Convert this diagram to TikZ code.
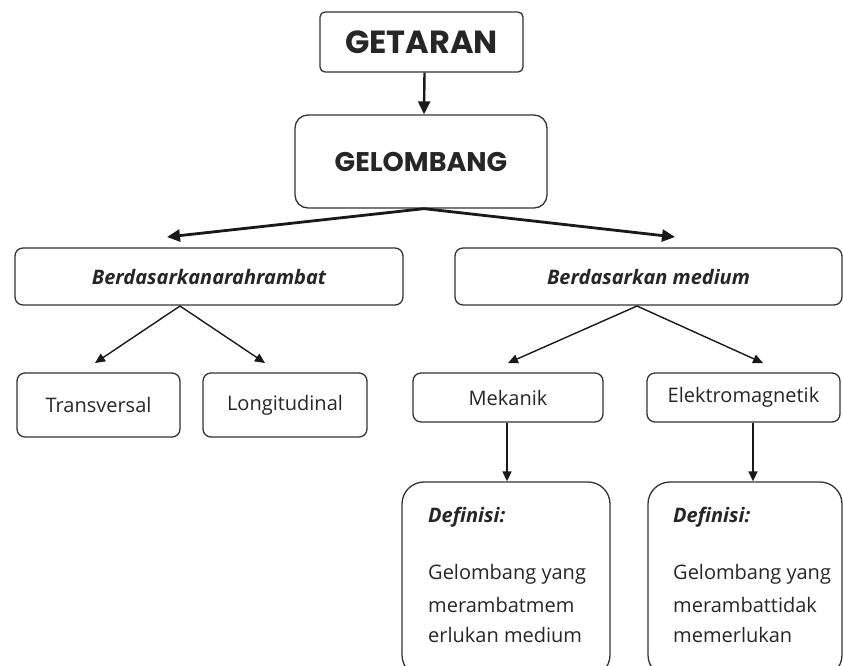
\documentclass[tikz,border=0pt]{standalone}
\usepackage{fontspec}
\setmainfont{Open Sans}
\newfontfamily\headfont{Poppins}
\usepackage{tikz}
\usetikzlibrary{arrows.meta}

\begin{document}
\begin{tikzpicture}[x=1pt, y=-1pt, every node/.style={font=\fontsize{20}{24}\selectfont, text=black!85}, >={Triangle[length=10pt,width=9pt]},
	bx/.style={draw=black!80, line width=1.3pt, rounded corners=8pt, inner sep=0pt},
	head/.style={bx, font=\headfont\bfseries\fontsize{32}{34}\selectfont},
	grp/.style={bx, minimum height=57pt, font=\bfseries\itshape\fontsize{20}{24}\selectfont},
	ln/.style={anchor=base west, inner sep=0pt},
	arr/.style={->, line width=1.4pt, draw=black!90},
	big/.style={->, line width=2.8pt, draw=black!90, >={Triangle[length=13pt,width=12pt]}}]
	\clip (0,0) rectangle (843,665);
	\useasboundingbox (0,0) rectangle (843,665);
	% top
	\node[head, rounded corners=5pt, minimum width=203pt, minimum height=60pt] (getaran) at (421.5,42) {GETARAN};
	\node[head, rounded corners=13pt, minimum width=252pt, minimum height=93pt, font=\headfont\bfseries\fontsize{27}{29}\selectfont] (gelombang) at (421,161.5) {GELOMBANG};
	\draw[big, line width=2.4pt] ([xshift=3pt]getaran.south) -- ([xshift=3pt]gelombang.north);
	% two groups
	\node[grp, minimum width=388pt] (arah) at (209,276.5) {Berdasarkanarahrambat};
	\node[grp, minimum width=387pt] (medium) at (648.5,276.5) {Berdasarkan medium};
	\coordinate (ka) at (167,237);
	\coordinate (kb) at (675,237);
	\draw[big] ([xshift=3pt]gelombang.south) -- (ka);
	\draw[big] ([xshift=3pt]gelombang.south) -- (kb);
	% leaves
	\node[bx, minimum width=163pt, minimum height=64pt] (trans) at (98.5,405) {Transversal};
	\node[bx, minimum width=164pt, minimum height=64pt] (longi) at (285,405) {Longitudinal};
	\node[bx, minimum width=190pt, minimum height=49pt] (mekanik) at (508,397.5) {Mekanik};
	\node[bx, minimum width=193pt, minimum height=49pt] (elektro) at (743.5,397.5) {Elektromagnetik};
	\coordinate (a0) at (180,306);
	\coordinate (m0) at (637,306);
	\draw[arr] (a0) -- (95,363) coordinate (ta);
	\draw[arr] (a0) -- (265,363) coordinate (tb);
	\draw[arr] (m0) -- (508,363) coordinate (tc);
	\draw[arr] (m0) -- (763,363) coordinate (td);
	% definitions
	\node[bx, rounded corners=22pt, minimum width=208pt, minimum height=195pt] (defmek) at (506,579.5) {};
	\node[bx, rounded corners=22pt, minimum width=194pt, minimum height=195pt] (defelek) at (745,579.5) {};
	\draw[arr] ([xshift=-1pt]mekanik.south) -- ([xshift=-1pt]mekanik.south |- defmek.north);
	\draw[arr] ([xshift=9.5pt]elektro.south) -- ([xshift=9.5pt]elektro.south |- defelek.north);
	\node[ln, font=\bfseries\itshape\fontsize{20}{24}\selectfont] (dm1) at (428,522) {Definisi:};
	\node[ln] (dm2) at (428,579) {Gelombang yang};
	\node[ln] (dm3) at (428,612) {merambatmem};
	\node[ln] (dm4) at (428,642) {erlukan medium};
	\node[ln, font=\bfseries\itshape\fontsize{20}{24}\selectfont] (de1) at (673,522) {Definisi:};
	\node[ln] (de2) at (673,579) {Gelombang yang};
	\node[ln] (de3) at (673,612) {merambattidak};
	\node[ln] (de4) at (673,642) {memerlukan};
\end{tikzpicture}
\end{document}
